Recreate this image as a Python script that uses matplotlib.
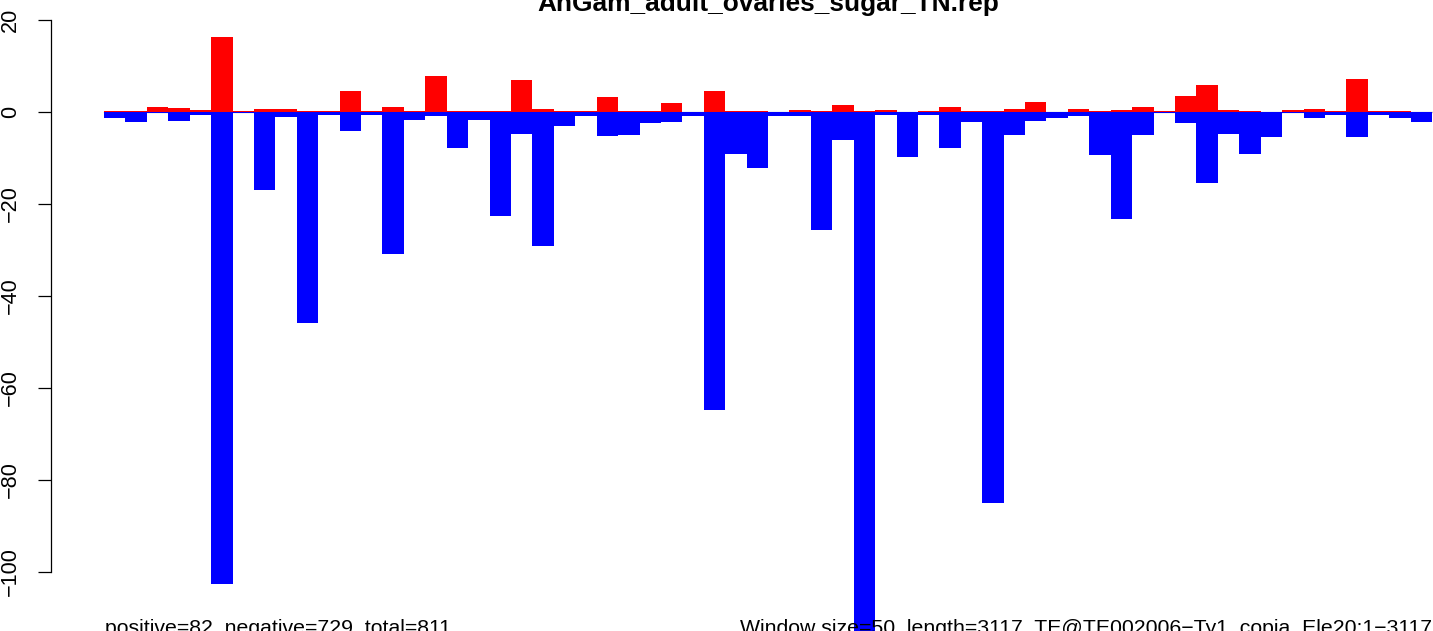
import numpy as np
import matplotlib
matplotlib.use("Agg")
import matplotlib.pyplot as plt

plt.rcParams['font.family'] = ['Liberation Sans', 'DejaVu Sans']

# window index (50 bp windows along the element)
windows = np.arange(62)

# positive strand coverage per window
positive = [0.2, 0.2, 1.0, 0.8, 0.4, 16.3, 0.2, 0.6, 0.6, 0.2,
            0.2, 4.6, 0.2, 1.0, 0.2, 7.8, 0.2, 0.2, 0.2, 6.9,
            0.6, 0.2, 0.2, 3.2, 0.2, 0.2, 1.9, 0.0, 4.5, 0.2,
            0.2, 0.0, 0.4, 0.2, 1.5, 0.2, 0.4, 0.0, 0.2, 1.0,
            0.2, 0.2, 0.6, 2.1, 0.0, 0.6, 0.2, 0.4, 1.0, 0.2,
            3.4, 5.8, 0.4, 0.2, 0.0, 0.4, 0.6, 0.2, 7.1, 0.2,
            0.2, 0.0]

# negative strand coverage per window
negative = [-1.3, -2.2, -0.3, -2.0, -0.65, -102.7, -0.3, -17.0, -1.1, -45.9,
            -0.65, -4.1, -0.65, -30.9, -1.7, -0.9, -7.9, -1.7, -22.7, -4.9,
            -29.2, -3.1, -1.0, -5.3, -5.1, -2.5, -2.2, -0.9, -64.9, -9.2,
            -12.2, -0.9, -0.9, -25.7, -6.2, -114.0, -0.7, -9.8, -0.7, -7.9,
            -2.2, -85.0, -5.1, -2.0, -1.4, -0.9, -9.4, -23.3, -5.1, -0.3,
            -2.4, -15.6, -4.8, -9.2, -5.6, -0.3, -1.3, -0.65, -5.6, -0.65,
            -1.3, -2.2]

yticks = [-100, -80, -60, -40, -20, 0, 20]

title = "AnGam_adult_ovaries_sugar_TN.rep"
left_note = "positive=82  negative=729  total=811"
right_note = "Window size=50  length=3117  TE@TE002006\u2212Ty1_copia_Ele20:1\u22123117"

W, H = 1433, 631
fig = plt.figure(figsize=(W / 100, H / 100), dpi=100)
ax = fig.add_axes([51 / W, 0, 1 - 51 / W, 1])

# pixel mapping of the original: bars start at x=104, 21.42 px each; zero at y=111.7, 4.6 px per unit
bw = 21.42
ax.set_xlim((51 - 104) / bw, (W - 104) / bw)
ax.set_ylim((111.7 - H) / 4.6, 111.7 / 4.6)

ax.plot([0, len(windows)], [0, 0], color='#BEBEBE', lw=1, zorder=1)
ax.bar(windows, positive, width=1, align='edge', color='#FF0000', linewidth=0, zorder=2)
ax.bar(windows, negative, width=1, align='edge', color='#0000FF', linewidth=0, zorder=2)

for s in ['top', 'right', 'bottom']:
    ax.spines[s].set_visible(False)
ax.spines['left'].set_bounds(-100, 20)
ax.spines['left'].set_linewidth(0.9)
ax.set_xticks([])
ax.set_yticks(yticks)
ax.set_yticklabels([str(v).replace('-', '\u2212') for v in yticks],
                   rotation=90, va='center', fontsize=15.6)
ax.tick_params(axis='y', length=9.4, width=0.9, pad=12)

fig.text(768 / W, 1 - 11 / H, title, ha='center', va='baseline',
         fontsize=18.9, fontweight='bold')
fig.text(105 / W, 1 - 634 / H, left_note, ha='left', va='baseline', fontsize=15.3)
fig.text(1432 / W, 1 - 634 / H, right_note, ha='right', va='baseline', fontsize=15.3)

fig.savefig("out.png", dpi=100)
